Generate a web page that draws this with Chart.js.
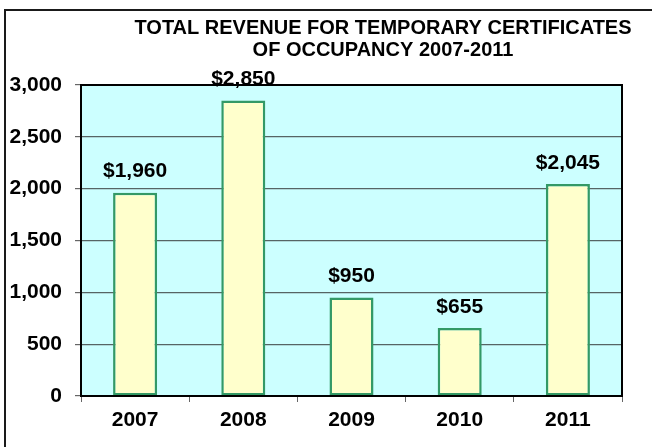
<!DOCTYPE html>
<html>
<head>
<meta charset="utf-8">
<script src="https://cdn.jsdelivr.net/npm/chart.js@4/dist/chart.umd.min.js"></script>
<style>
  html, body { margin: 0; padding: 0; background: #ffffff; }
  #wrap { position: relative; width: 652px; height: 447px; }
  canvas { display: block; }
</style>
</head>
<body>
<div id="wrap"><canvas id="c" width="652" height="447"></canvas></div>
<script>
const titleLines = ['TOTAL REVENUE FOR TEMPORARY CERTIFICATES', 'OF OCCUPANCY 2007-2011'];
const years = ['2007', '2008', '2009', '2010', '2011'];
const revenue = [1960, 2850, 950, 655, 2045];
const yTicks = [0, 500, 1000, 1500, 2000, 2500, 3000];

const FONT = '"Liberation Sans", Arial, sans-serif';

const decorPlugin = {
  id: 'decor',
  beforeDraw(chart) {
    const ctx = chart.ctx;
    const a = chart.chartArea;
    ctx.save();
    ctx.fillStyle = '#ffffff';
    ctx.fillRect(0, 0, chart.width, chart.height);
    // outer frame
    ctx.strokeStyle = '#1a1a1a';
    ctx.lineWidth = 2;
    ctx.strokeRect(5, 10, 800, 600);
    // plot background
    ctx.fillStyle = '#CCFFFF';
    ctx.fillRect(a.left, a.top, a.right - a.left, a.bottom - a.top);
    // title
    ctx.fillStyle = '#000000';
    ctx.font = 'bold 20px ' + FONT;
    ctx.textAlign = 'center';
    ctx.textBaseline = 'alphabetic';
    ctx.fillText(titleLines[0], 383, 33.5);
    ctx.fillText(titleLines[1], 383, 55.5);
    ctx.restore();
  },
  afterDatasetsDraw(chart) {
    const ctx = chart.ctx;
    const meta = chart.getDatasetMeta(0);
    ctx.save();
    ctx.fillStyle = '#000000';
    ctx.font = 'bold 21px ' + FONT;
    ctx.textAlign = 'center';
    ctx.textBaseline = 'alphabetic';
    meta.data.forEach((bar, i) => {
      const v = chart.data.datasets[0].data[i];
      ctx.fillText('$' + v.toLocaleString('en-US'), bar.x, bar.y - 15.5);
    });
    ctx.restore();
  },
  afterDraw(chart) {
    const ctx = chart.ctx;
    const a = chart.chartArea;
    ctx.save();
    ctx.strokeStyle = '#000000';
    ctx.lineWidth = 2;
    ctx.strokeRect(a.left, a.top, a.right - a.left, a.bottom - a.top);
    ctx.restore();
  }
};

new Chart(document.getElementById('c'), {
  type: 'bar',
  data: {
    labels: years,
    datasets: [{
      data: revenue,
      backgroundColor: '#FFFFCC',
      borderColor: '#339966',
      borderWidth: 2.5,
      borderSkipped: false,
      categoryPercentage: 1.0,
      barPercentage: 0.407
    }]
  },
  options: {
    responsive: false,
    animation: false,
    devicePixelRatio: 1,
    layout: { padding: { top: 85, left: 0, right: 30, bottom: 0 } },
    plugins: {
      legend: { display: false },
      title: { display: false },
      tooltip: { enabled: false }
    },
    scales: {
      x: {
        afterFit(scale) { scale.height = 51; },
        border: { display: false },
        grid: {
          display: true,
          offset: true,
          drawOnChartArea: false,
          drawTicks: true,
          tickLength: 6,
          tickColor: '#666666',
          color: '#666666'
        },
        ticks: {
          color: '#000000',
          padding: 6,
          font: { family: FONT, size: 21, weight: 'bold' }
        }
      },
      y: {
        min: 0,
        max: 3000,
        afterFit(scale) { scale.width = 81; },
        afterBuildTicks(scale) { scale.ticks = yTicks.map(v => ({ value: v })); },
        border: { display: false },
        grid: {
          color: '#566464',
          lineWidth: 1.2,
          drawTicks: true,
          tickLength: 6,
          tickColor: '#666666'
        },
        ticks: {
          color: '#000000',
          padding: 13,
          font: { family: FONT, size: 21, weight: 'bold' },
          callback: (v) => Number(v).toLocaleString('en-US')
        }
      }
    }
  },
  plugins: [decorPlugin]
});
</script>
</body>
</html>
